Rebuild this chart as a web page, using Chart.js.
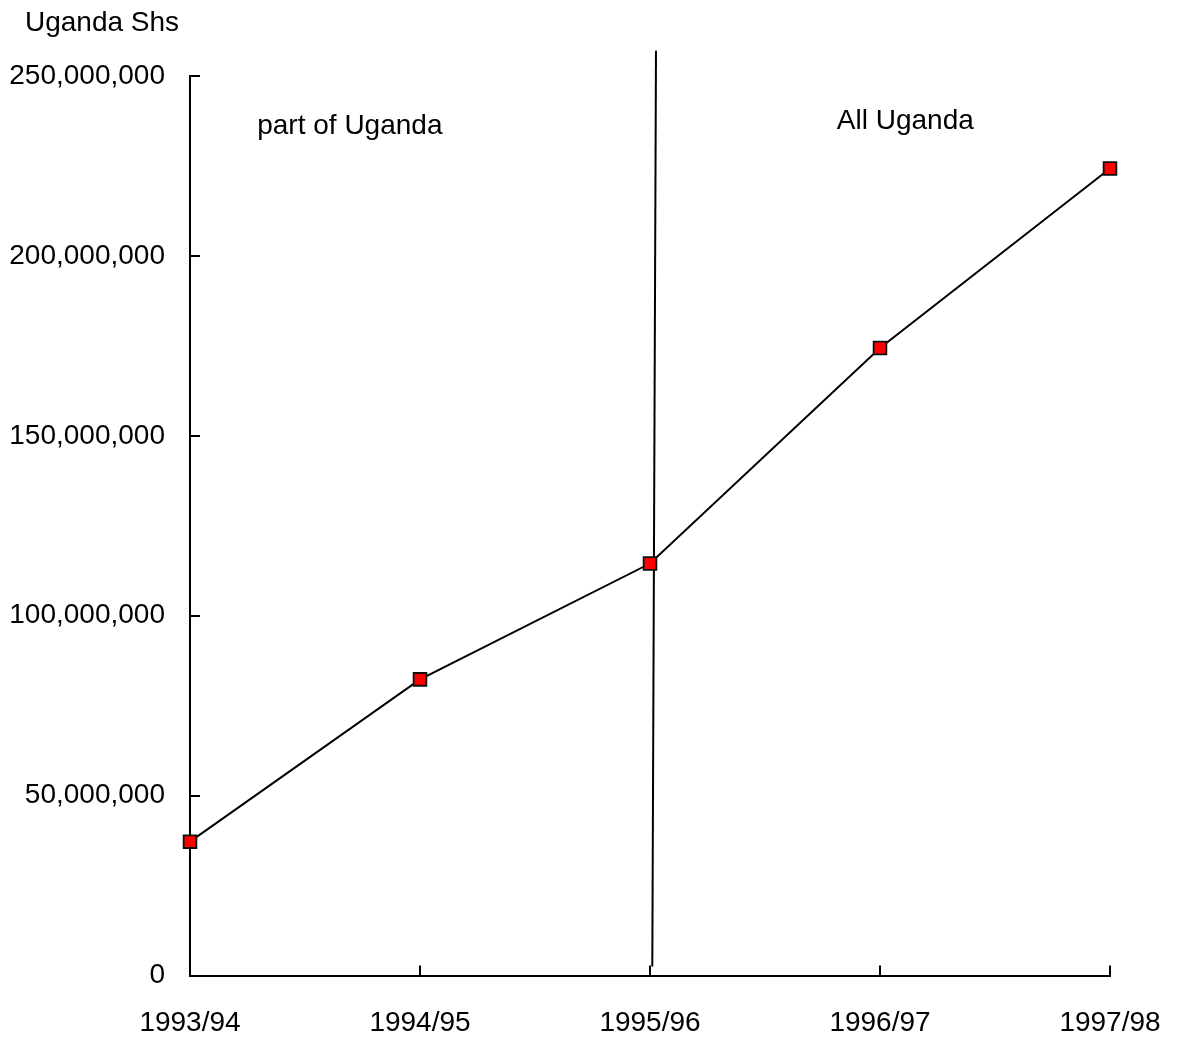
<!DOCTYPE html>
<html>
<head>
<meta charset="utf-8">
<script src="https://cdn.jsdelivr.net/npm/chart.js@4.4.1/dist/chart.umd.min.js"></script>
<style>
  html, body { margin: 0; padding: 0; background: #ffffff; }
  #wrap { width: 1180px; height: 1040px; }
</style>
</head>
<body>
<div id="wrap"><canvas id="chart" width="1180" height="1040"></canvas></div>
<script>
// Fiscal years shown along the bottom axis
const years = ['1993/94', '1994/95', '1995/96', '1996/97', '1997/98'];
// Amount per year, Uganda shillings
const amounts = [37200000, 82300000, 114500000, 174400000, 224300000];
// Boundary between the "part of Uganda" and "All Uganda" periods (year index, amount)
const boundaryX = [2.026, 2.010];
const boundaryY = [257000000, 2500000];
// Period captions and where they sit (year index, amount)
const captions = ['part of Uganda', 'All Uganda'];
const captionX = [0.695, 3.11];
const captionY = [236000000, 237300000];
const yTicks = [0, 50000000, 100000000, 150000000, 200000000, 250000000];
const unitLabel = 'Uganda Shs';

const FONT = '"Liberation Sans", Arial, sans-serif';
const FONT_SIZE = 28;

// Ticks drawn inward, captions and unit label
const decorations = {
  id: 'decorations',
  afterDatasetsDraw(chart) {
    const { ctx, scales: { x, y } } = chart;
    ctx.save();
    ctx.strokeStyle = '#000';
    ctx.lineWidth = 2;
    ctx.beginPath();
    yTicks.forEach(v => {
      const py = Math.round(y.getPixelForValue(v));
      ctx.moveTo(x.left, py);
      ctx.lineTo(x.left + 10, py);
    });
    years.forEach((_, i) => {
      const px = Math.round(x.getPixelForValue(i));
      ctx.moveTo(px, y.bottom);
      ctx.lineTo(px, y.bottom - 10);
    });
    ctx.stroke();

    ctx.fillStyle = '#000';
    ctx.font = FONT_SIZE + 'px ' + FONT;
    ctx.textAlign = 'center';
    ctx.textBaseline = 'middle';
    captions.forEach((t, i) => {
      ctx.fillText(t, x.getPixelForValue(captionX[i]), y.getPixelForValue(captionY[i]));
    });
    ctx.textAlign = 'left';
    ctx.fillText(unitLabel, 25, 23);
    ctx.restore();
  }
};

new Chart(document.getElementById('chart'), {
  type: 'line',
  data: {
    datasets: [
      {
        label: 'Amount',
        data: amounts.map((v, i) => ({ x: i, y: v })),
        borderColor: '#000',
        borderWidth: 2,
        pointStyle: 'rect',
        pointRadius: 9,
        pointBackgroundColor: '#ff0000',
        pointBorderColor: '#111',
        pointBorderWidth: 1.8,
        tension: 0,
        clip: false,
        order: 0
      },
      {
        label: 'Boundary',
        data: boundaryX.map((v, i) => ({ x: v, y: boundaryY[i] })),
        borderColor: '#000',
        borderWidth: 2,
        pointRadius: 0,
        clip: false,
        order: 1
      }
    ]
  },
  options: {
    responsive: false,
    animation: false,
    layout: { padding: { top: 76, right: 70, left: 0, bottom: 0 } },
    plugins: { legend: { display: false }, tooltip: { enabled: false } },
    scales: {
      x: {
        type: 'linear',
        min: 0,
        max: 4,
        afterBuildTicks(scale) { scale.ticks = years.map((_, i) => ({ value: i })); },
        afterFit(scale) { scale.height = 64.5; scale.paddingLeft = 0; scale.paddingRight = 0; },
        grid: { drawOnChartArea: false, drawTicks: false },
        border: { display: true, color: '#000', width: 2 },
        ticks: {
          callback: v => years[v],
          color: '#000',
          font: { family: FONT, size: FONT_SIZE },
          padding: 31,
          maxRotation: 0,
          autoSkip: false
        }
      },
      y: {
        min: 0,
        max: 250000000,
        afterBuildTicks(scale) { scale.ticks = yTicks.map(v => ({ value: v })); },
        afterFit(scale) { scale.width = 190; scale.paddingTop = 0; scale.paddingBottom = 0; },
        grid: { drawOnChartArea: false, drawTicks: false },
        border: { display: true, color: '#000', width: 2 },
        ticks: {
          callback: v => v.toLocaleString('en-US'),
          color: '#000',
          font: { family: FONT, size: FONT_SIZE },
          padding: 25
        }
      }
    }
  },
  plugins: [decorations]
});
</script>
</body>
</html>
